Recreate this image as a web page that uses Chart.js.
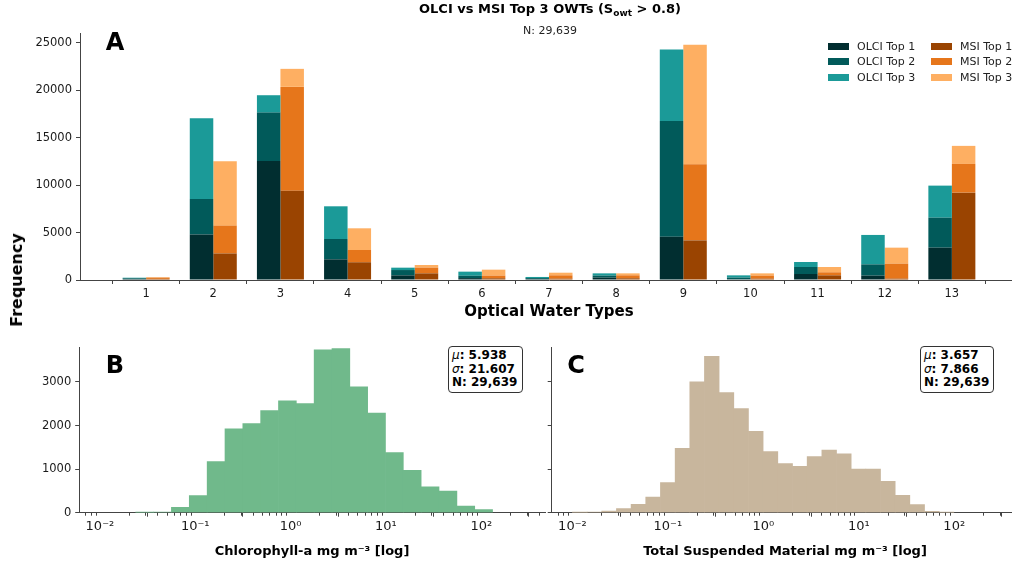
<!DOCTYPE html>
<html lang="en">
<head>
<meta charset="UTF-8" />
<title>OLCI vs MSI Top 3 OWTs</title>
<script src="https://cdn.jsdelivr.net/npm/chart.js"></script>
<style>
  html, body { margin: 0; padding: 0; background: #fff; overflow: hidden; }
  body { width: 1012px; height: 566px; position: relative; font-family: 'DejaVu Sans', sans-serif; color: #000; }
  canvas { position: absolute; }
  .t { position: absolute; white-space: nowrap; transform: translate(-50%, -50%); line-height: 1; }
  .b { font-weight: bold; }
  .letter { font-size: 24px; font-weight: bold; }
  .stats { position: absolute; box-sizing: border-box; border: 1px solid #333; border-radius: 4px; background: #fff;
           font-size: 12px; font-weight: bold; line-height: 13.5px; padding: 2px 0 0 3px; }
  .stats i { font-weight: normal; }
  #legend { position: absolute; left: 828px; top: 39px; display: grid; grid-template-columns: 103px 90px; row-gap: 1px; font-size: 11px; color: #222; }
  #legend div { display: flex; align-items: center; height: 14.5px; }
  #legend span.sw { display: inline-block; width: 21px; height: 7px; margin-right: 8px; }
</style>
</head>
<body>
  <canvas id="chartA" width="1018" height="330" style="left:0;top:0"></canvas>
  <canvas id="chartB" width="546" height="236" style="left:0;top:330px"></canvas>
  <canvas id="chartC" width="478" height="236" style="left:540px;top:330px"></canvas>

  <div class="t b" style="left:550px;top:10px;font-size:13px">OLCI vs MSI Top 3 OWTs (S<sub style="font-size:9px">owt</sub> &gt; 0.8)</div>
  <div class="t" style="left:550px;top:30px;font-size:11px;color:#222">N: 29,639</div>
  <div class="t b" style="left:17px;top:280px;font-size:16px;transform:translate(-50%,-50%) rotate(-90deg)">Frequency</div>
  <div class="t b" style="left:549px;top:311px;font-size:15px">Optical Water Types</div>
  <div class="t b" style="left:312px;top:550px;font-size:13px">Chlorophyll-a mg m⁻³ [log]</div>
  <div class="t b" style="left:785px;top:550px;font-size:13px">Total Suspended Material mg m⁻³ [log]</div>

  <div class="t letter" style="left:115px;top:42px">A</div>
  <div class="t letter" style="left:115px;top:365px">B</div>
  <div class="t letter" style="left:576px;top:365px">C</div>

  <div class="stats" style="left:448px;top:346px;width:75px;height:47px"><i>μ</i>: 5.938<br><i>σ</i>: 21.607<br>N: 29,639</div>
  <div class="stats" style="left:920px;top:346px;width:74px;height:47px"><i>μ</i>: 3.657<br><i>σ</i>: 7.866<br>N: 29,639</div>

  <div id="legend"></div>

<script>
// ---- data ----
const owt = [1, 2, 3, 4, 5, 6, 7, 8, 9, 10, 11, 12, 13];
const olciTop1 = [100, 4800, 12550, 2180, 490, 200, 100, 250, 4570, 80, 630, 460, 3410];
const olciTop2 = [80, 3740, 5100, 2140, 560, 250, 100, 210, 12200, 170, 740, 1190, 3160];
const olciTop3 = [60, 8520, 1830, 3450, 250, 430, 120, 240, 7530, 240, 530, 3100, 3380];
const msiTop1 = [120, 2800, 9420, 1870, 700, 180, 140, 180, 4180, 140, 490, 140, 9210];
const msiTop2 = [120, 2930, 10940, 1290, 600, 280, 350, 310, 8020, 320, 320, 1580, 3030];
const msiTop3 = [60, 6790, 1900, 2290, 280, 630, 280, 210, 12600, 240, 560, 1690, 1900];
const freqTicks = [0, 5000, 10000, 15000, 20000, 25000];

// histogram bin edges (log10) and counts
const chlEdges = [-1.624, -1.437, -1.250, -1.063, -0.875, -0.688, -0.501, -0.314, -0.127, 0.060, 0.247,
                  0.434, 0.621, 0.808, 0.995, 1.182, 1.369, 1.557, 1.744, 1.931, 2.118];
const chlCounts = [8, 15, 125, 390, 1170, 1925, 2045, 2345, 2565, 2505, 3735, 3765, 2885, 2283, 1380, 970, 595, 496, 153, 69];
const tsmEdges = [-2.000, -1.846, -1.693, -1.539, -1.385, -1.232, -1.078, -0.924, -0.770, -0.617, -0.463, -0.309, -0.156,
                  -0.002, 0.152, 0.306, 0.459, 0.613, 0.767, 0.920, 1.074, 1.228, 1.381, 1.535, 1.689, 1.842, 1.996];
const tsmCounts = [5, 15, 40, 95, 190, 360, 690, 1475, 3000, 3590, 2755, 2390, 1865, 1405, 1125, 1063, 1290, 1435, 1350,
                   1000, 1000, 720, 400, 185, 30, 5];
const histTicks = [0, 1000, 2000, 3000];
const logTickExp = [-2, -1, 0, 1, 2];
const logTickLabels = ['10⁻²', '10⁻¹', '10⁰', '10¹', '10²'];

// ---- styling ----
const axisColor = '#444';
const tickFont = { family: "'DejaVu Sans', sans-serif", size: 11.5 };
const logTickFont = { family: "'DejaVu Sans', sans-serif", size: 13 };
const seriesLabels = ['OLCI Top 1', 'OLCI Top 2', 'OLCI Top 3', 'MSI Top 1', 'MSI Top 2', 'MSI Top 3'];
const seriesColors = ['#012e30', '#015a5a', '#1b9a98', '#9a4401', '#e6761b', '#feaf62'];

Chart.defaults.font.family = "'DejaVu Sans', sans-serif";
Chart.defaults.color = '#1a1a1a';

const minorTicks = {
  id: 'minorTicks',
  afterDraw(chart) {
    const xs = chart.scales.x;
    if (xs.type !== 'logarithmic') return;
    const ctx = chart.ctx;
    ctx.save();
    ctx.strokeStyle = axisColor;
    ctx.lineWidth = 1;
    for (let e = -3; e <= 2; e++) {
      for (let k = 2; k <= 9; k++) {
        const v = k * Math.pow(10, e);
        if (v < xs.min || v > xs.max) continue;
        const px = Math.round(xs.getPixelForValue(v)) + 0.5;
        ctx.beginPath(); ctx.moveTo(px, xs.top); ctx.lineTo(px, xs.top + 3); ctx.stroke();
      }
    }
    ctx.restore();
  }
};

function axisBase(extra) {
  return Object.assign({
    grid: { display: true, drawOnChartArea: false, drawTicks: true, tickLength: 4, tickColor: axisColor },
    border: { display: true, color: axisColor, width: 1 },
  }, extra);
}

// ---- A: stacked grouped bars ----
const sets = [olciTop1, olciTop2, olciTop3, msiTop1, msiTop2, msiTop3];
new Chart(document.getElementById('chartA'), {
  type: 'bar',
  data: {
    datasets: sets.map((arr, i) => ({
      label: seriesLabels[i],
      data: owt.map((o, j) => ({ x: o, y: arr[j] })),
      backgroundColor: seriesColors[i],
      stack: i < 3 ? 'olci' : 'msi',
      barPercentage: 1,
      categoryPercentage: 0.7,
      borderWidth: 0
    }))
  },
  options: {
    responsive: false, animation: false,
    layout: { padding: { top: 33, right: 0, bottom: 0, left: 0 } },
    plugins: { legend: { display: false }, tooltip: { enabled: false } },
    scales: {
      x: axisBase({
        type: 'linear', stacked: true, offset: false, min: 0.015, max: 13.985,
        afterBuildTicks: s => { s.ticks = owt.map(v => ({ value: v })); },
        afterFit: s => { s.height = 50; },
        ticks: { font: tickFont, padding: 3, maxRotation: 0, callback: v => String(v) }
      }),
      y: axisBase({
        stacked: true, min: 0, max: 26040,
        afterBuildTicks: s => { s.ticks = freqTicks.map(v => ({ value: v })); },
        afterFit: s => { s.width = 80; },
        ticks: { font: tickFont, padding: 4, callback: v => String(v) }
      })
    }
  }
});

// legend, column-wise like the figure
const legend = document.getElementById('legend');
[0, 3, 1, 4, 2, 5].forEach(i => {
  const d = document.createElement('div');
  d.innerHTML = `<span class="sw" style="background:${seriesColors[i]}"></span>${seriesLabels[i]}`;
  legend.appendChild(d);
});

// ---- B / C: log histograms ----
function histChart(id, edges, counts, color, yWidth, padRight, showYLabels) {
  const pts = counts.map((c, i) => ({ x: Math.pow(10, (edges[i] + edges[i + 1]) / 2), y: c }));
  return new Chart(document.getElementById(id), {
    type: 'bar',
    data: { datasets: [{ data: pts, backgroundColor: color, barPercentage: 1, categoryPercentage: 1, borderWidth: 0 }] },
    options: {
      responsive: false, animation: false,
      layout: { padding: { top: 17.5, right: padRight, bottom: 0, left: 0 } },
      plugins: { legend: { display: false }, tooltip: { enabled: false } },
      scales: {
        x: axisBase({
          type: 'logarithmic', offset: false, min: Math.pow(10, -2.217), max: Math.pow(10, 2.668),
          afterBuildTicks: s => { s.ticks = logTickExp.map(e => ({ value: Math.pow(10, e) })); },
          afterFit: s => { s.height = 53.3; },
          ticks: { font: logTickFont, padding: 2, maxRotation: 0, autoSkip: false, callback: (v, i) => logTickLabels[i] }
        }),
        y: axisBase({
          min: 0, max: 3790,
          afterBuildTicks: s => { s.ticks = histTicks.map(v => ({ value: v })); },
          afterFit: s => { s.width = yWidth; },
          ticks: { font: tickFont, padding: 4, callback: v => showYLabels ? String(v) : '' }
        })
      }
    },
    plugins: [minorTicks]
  });
}

histChart('chartB', chlEdges, chlCounts, '#70b98b', 79.2, 1, true);
histChart('chartC', tsmEdges, tsmCounts, '#c8b69d', 11.7, 0, false);
</script>
</body>
</html>
